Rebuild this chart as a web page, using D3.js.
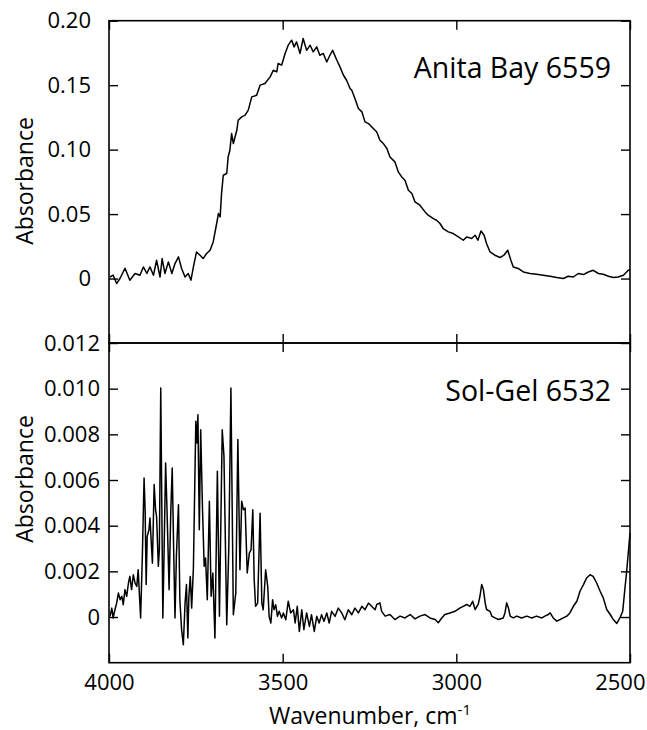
<!DOCTYPE html>
<html>
<head>
<meta charset="utf-8">
<script src="https://cdn.jsdelivr.net/npm/d3@7"></script>
<style>
  html, body { margin: 0; padding: 0; background: #fff; }
  svg text { font-family: "Open Sans", "Noto Sans", sans-serif; fill: #000; }
</style>
</head>
<body>
<svg id="chart" width="647" height="730"></svg>
<script>
// Wavenumber axis (cm^-1), drawn decreasing left to right
const xTicks = [4000, 3500, 3000, 2500];
const yTicksTop = [0, 0.05, 0.10, 0.15, 0.20];
const yTicksBottom = [0, 0.002, 0.004, 0.006, 0.008, 0.010, 0.012];

const labelTop = "Anita Bay 6559";
const labelBottom = "Sol-Gel 6532";

// Anita Bay 6559 spectrum
const waveTop = [3997,3988,3978,3968,3954,3940,3925,3911,3901,3891,3882,3872,3863,3853,3847,3839,3829,3819,3810,3800,3791,3781,3772,3764,3757,3748,3738,3729,3719,3709,3700,3690,3685,3680,3676,3671,3661,3657,3652,3647,3642,3632,3628,3618,3608,3599,3589,3575,3565,3551,3536,3527,3517,3513,3503,3493,3484,3474,3467,3460,3450,3441,3431,3421,3412,3402,3393,3383,3373,3364,3356,3344,3335,3325,3316,3306,3301,3292,3282,3272,3263,3253,3239,3229,3220,3210,3200,3191,3177,3167,3157,3148,3138,3128,3119,3105,3090,3081,3066,3057,3047,3038,3023,3009,2994,2980,2970,2956,2946,2938,2929,2920,2913,2903,2889,2874,2863,2852,2843,2836,2822,2807,2788,2769,2750,2730,2711,2692,2678,2663,2649,2634,2620,2606,2591,2577,2562,2548,2534,2519,2505,2500];
const absTop = [0.0012,0.0026,-0.0039,0.0002,0.0080,-0.0013,0.0039,0.0026,0.0090,0.0039,0.0090,0.0026,0.0142,0.0012,0.0155,0.0039,0.0129,0.0039,0.0116,0.0168,0.0078,0.0012,0.0039,-0.0013,0.0090,0.0206,0.0181,0.0155,0.0194,0.0220,0.0284,0.0427,0.0504,0.0478,0.0659,0.0801,0.0815,0.0943,0.0995,0.1125,0.1047,0.1150,0.1228,0.1254,0.1267,0.1306,0.1409,0.1422,0.1500,0.1513,0.1564,0.1616,0.1603,0.1668,0.1655,0.1746,0.1810,0.1849,0.1797,0.1836,0.1746,0.1862,0.1770,0.1810,0.1758,0.1797,0.1732,0.1746,0.1680,0.1732,0.1770,0.1693,0.1642,0.1577,0.1538,0.1474,0.1460,0.1396,0.1319,0.1293,0.1215,0.1202,0.1164,0.1137,0.1073,0.1047,0.1009,0.0943,0.0905,0.0827,0.0788,0.0763,0.0685,0.0660,0.0594,0.0569,0.0517,0.0491,0.0465,0.0452,0.0427,0.0388,0.0362,0.0349,0.0323,0.0297,0.0323,0.0310,0.0336,0.0297,0.0369,0.0336,0.0272,0.0206,0.0181,0.0163,0.0181,0.0220,0.0142,0.0090,0.0078,0.0051,0.0039,0.0033,0.0026,0.0018,0.0008,0.0000,0.0018,0.0012,0.0039,0.0031,0.0051,0.0064,0.0039,0.0033,0.0018,0.0008,0.0012,0.0026,0.0064,0.0068];

// Sol-Gel 6532 spectrum
const waveBottom = [3997,3992,3988,3983,3978,3973,3968,3963,3959,3954,3949,3944,3940,3935,3930,3925,3920,3916,3909,3904,3899,3896,3893,3890,3885,3882,3879,3875,3870,3866,3863,3858,3855,3851,3848,3845,3842,3837,3833,3827,3822,3818,3814,3810,3806,3800,3796,3791,3786,3781,3777,3773,3770,3766,3762,3757,3750,3747,3744,3740,3736,3731,3726,3722,3717,3711,3706,3701,3695,3688,3682,3674,3669,3661,3655,3649,3642,3635,3629,3623,3618,3613,3608,3602,3596,3591,3586,3582,3578,3572,3565,3560,3556,3549,3543,3539,3534,3529,3525,3520,3515,3510,3503,3498,3491,3484,3477,3469,3464,3458,3452,3445,3439,3431,3423,3417,3409,3402,3395,3388,3381,3373,3366,3359,3349,3340,3330,3321,3311,3301,3292,3282,3272,3263,3253,3244,3234,3229,3220,3215,3205,3191,3177,3162,3148,3133,3119,3105,3090,3076,3061,3052,3042,3033,3018,3004,2989,2980,2970,2961,2953,2946,2937,2932,2927,2922,2917,2913,2903,2898,2889,2879,2865,2860,2855,2850,2845,2836,2826,2812,2797,2783,2769,2754,2745,2735,2730,2721,2711,2701,2692,2682,2673,2663,2653,2644,2634,2625,2615,2606,2596,2586,2577,2567,2557,2548,2538,2529,2521,2514,2510,2500];
const absBottom = [0.00003,0.00039,-0.00004,0.00032,0.00061,0.00105,0.00076,0.00091,0.00054,0.00120,0.00091,0.00149,0.00178,0.00120,0.00185,0.00149,0.00134,0.00207,-0.00004,0.00266,0.00609,0.00470,0.00142,0.00353,0.00382,0.00434,0.00346,0.00236,0.00580,0.00470,0.00441,0.00222,0.00295,0.01003,0.00499,-0.00004,0.00236,0.00674,0.00470,0.00120,0.00470,0.00653,0.00309,-0.00004,0.00266,0.00492,0.00076,-0.00055,-0.00121,0.00061,0.00142,-0.00092,0.00091,0.00178,0.00039,0.00215,0.00857,0.00762,0.00886,0.00382,0.00820,0.00485,0.00222,0.00258,0.00076,0.00507,0.00091,0.00193,-0.00092,0.00638,0.00003,0.00820,0.00704,-0.00034,0.00309,0.01003,0.00010,0.00105,0.00777,0.00207,0.00507,0.00470,0.00477,0.00193,0.00280,0.00295,0.00470,0.00164,0.00047,0.00061,0.00455,0.00061,0.00032,0.00207,0.00134,0.00003,-0.00026,0.00076,0.00032,0.00054,0.00003,0.00025,-0.00004,0.00018,-0.00012,0.00069,0.00018,0.00032,-0.00026,0.00047,-0.00063,0.00032,-0.00055,0.00018,-0.00041,0.00010,-0.00063,0.00003,-0.00026,0.00010,-0.00019,0.00018,-0.00026,0.00025,0.00003,0.00039,0.00018,-0.00012,0.00032,0.00010,0.00039,0.00018,0.00047,0.00032,0.00061,0.00047,0.00032,0.00055,0.00062,0.00025,0.00004,0.00011,-0.00011,0.00004,-0.00004,0.00011,-0.00008,0.00004,0.00011,-0.00004,-0.00011,-0.00025,-0.00004,0.00011,0.00018,0.00025,0.00040,0.00047,0.00055,0.00047,0.00069,0.00033,0.00055,0.00091,0.00142,0.00120,0.00062,0.00033,0.00025,0.00004,-0.00004,-0.00011,-0.00004,0.00018,0.00062,0.00040,0.00004,-0.00004,0.00004,-0.00004,0.00004,-0.00004,0.00004,-0.00004,0.00004,0.00011,0.00018,-0.00004,-0.00018,-0.00011,-0.00004,0.00004,0.00018,0.00047,0.00069,0.00113,0.00142,0.00171,0.00185,0.00178,0.00149,0.00113,0.00084,0.00033,0.00011,-0.00011,-0.00028,-0.00004,0.00025,0.00135,0.00193,0.00368];

const svg = d3.select("#chart");

const left = 109, right = 630;
const topY = 20.7, midY = 343, bottomY = 662.7;
const tickLen = 9;

const x = d3.scaleLinear().domain([4000, 2500]).range([left, right]);
const yTop = d3.scaleLinear().domain([-0.05, 0.20]).range([midY, topY]);
const yBottom = d3.scaleLinear().domain([-0.002, 0.012]).range([bottomY, midY]);

const fmtTop = d => d === 0 ? "0" : d3.format(".2f")(d);
const fmtBottom = d => d === 0 ? "0" : d3.format(".3f")(d);

function styleAxis(g) {
  g.select(".domain").remove();
  g.selectAll(".tick line").attr("stroke", "#000").attr("stroke-width", 1.4);
  g.selectAll(".tick text").attr("font-size", 22).attr("fill", "#000")
    .style("font-family", '"Open Sans", "Noto Sans", sans-serif');
}

function panel(yScale, ticks, fmt, labelPad, series, title, titleY, yTitleCenter, showX) {
  const y0 = yScale.range()[1], y1 = yScale.range()[0];

  // left axis with inward ticks
  svg.append("g").attr("transform", `translate(${left},0)`)
    .call(d3.axisLeft(yScale).tickValues(ticks).tickFormat(fmt)
      .tickSize(-tickLen).tickPadding(labelPad))
    .call(styleAxis);

  // right axis, ticks only
  svg.append("g").attr("transform", `translate(${right},0)`)
    .call(d3.axisRight(yScale).tickValues(ticks).tickFormat("").tickSize(-tickLen))
    .call(styleAxis);

  // top and bottom edge ticks
  svg.append("g").attr("transform", `translate(0,${y0})`)
    .call(d3.axisTop(x).tickValues(xTicks).tickFormat("").tickSize(-tickLen))
    .call(styleAxis);
  const bottomAxis = d3.axisBottom(x).tickValues(xTicks).tickSize(-tickLen);
  if (showX) bottomAxis.tickPadding(12).tickFormat(d3.format("d"));
  else bottomAxis.tickFormat("");
  const gb = svg.append("g").attr("transform", `translate(0,${y1})`)
    .call(bottomAxis)
    .call(styleAxis);
  if (showX) {
    // keep the right-most label inside the page
    gb.selectAll(".tick text")
      .filter(d => d === 2500)
      .attr("text-anchor", "end")
      .attr("x", 15);
  }

  // spectrum
  const pts = series.wave.map((w, i) => [w, series.abs[i]]);
  svg.append("path")
    .datum(pts)
    .attr("fill", "none")
    .attr("stroke", "#000")
    .attr("stroke-width", 1.5)
    .attr("stroke-linejoin", "round")
    .attr("d", d3.line().x(d => x(d[0])).y(d => yScale(d[1])));

  // frame
  svg.append("rect")
    .attr("x", left).attr("y", y0)
    .attr("width", right - left).attr("height", y1 - y0)
    .attr("fill", "none").attr("stroke", "#000").attr("stroke-width", 1.6);

  // sample name
  svg.append("text")
    .attr("x", 611).attr("y", titleY)
    .attr("text-anchor", "end")
    .attr("font-size", 28.5)
    .text(title);

  // y axis title
  svg.append("text")
    .attr("transform", `translate(33,${yTitleCenter}) rotate(-90)`)
    .attr("text-anchor", "middle")
    .attr("font-size", 23)
    .text("Absorbance");
}

panel(yTop, yTicksTop, fmtTop, 18, { wave: waveTop, abs: absTop }, labelTop, 78, 181, false);
panel(yBottom, yTicksBottom, fmtBottom, 9, { wave: waveBottom, abs: absBottom }, labelBottom, 401, 479, true);

// x axis title
const xt = svg.append("text")
  .attr("x", 370).attr("y", 724)
  .attr("text-anchor", "middle")
  .attr("font-size", 23);
xt.append("tspan").text("Wavenumber, cm");
xt.append("tspan").attr("font-size", 15).attr("dy", -9).text("-1");
</script>
</body>
</html>
